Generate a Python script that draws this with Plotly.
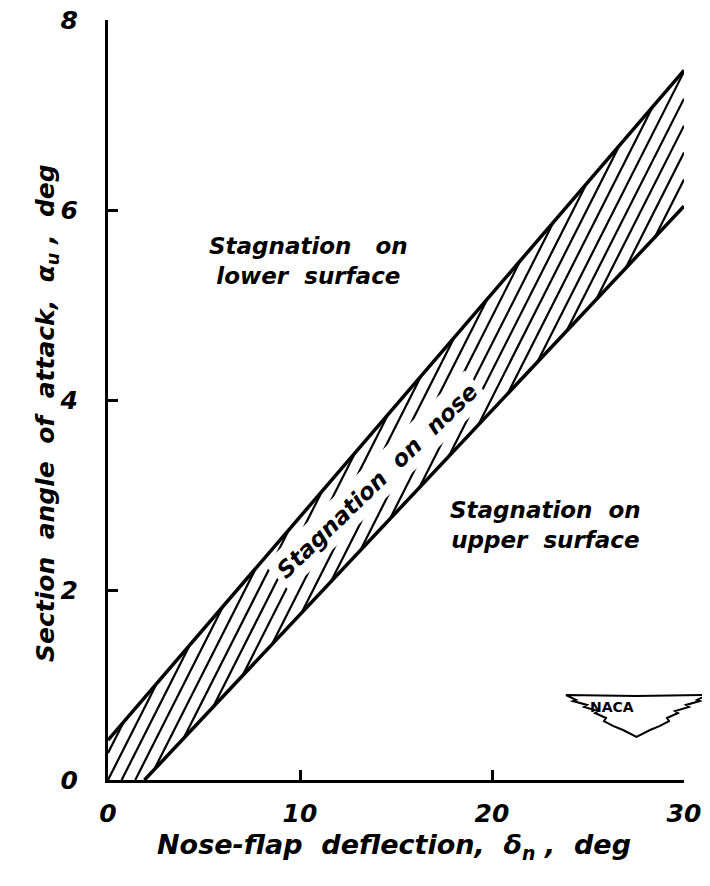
import numpy as np
import plotly.graph_objects as go

# ---- data ----
upper_x = [0.0, 30.0]          # boundary: stagnation on lower surface / nose
upper_y = [0.42, 7.47]
lower_x = [1.9, 30.0]          # boundary: stagnation on nose / upper surface
lower_y = [0.0, 6.04]

x_ticks = [0, 10, 20, 30]
y_ticks = [0, 2, 4, 6, 8]

# hatch style (pattern only)
HATCH_SLOPE = 0.40
HATCH_STEP = 0.71

# the page body has an 8px margin; compensate so the plot lands where intended
OFF = 8
W, H = 710 - OFF, 886 - OFF
PX0, PX1, PY0, PY1 = 108, 684, 20, 780   # plot area in page pixels
L, T = PX0 - OFF, PY0 - OFF
R, B = W - (PX1 - OFF), H - (PY1 - OFF)


def paper(xp, yp):
    return (xp - PX0) / (PX1 - PX0), (PY1 - yp) / (PY1 - PY0)


fig = go.Figure()

# ---- hatch segments inside band ----
su = (upper_y[1] - upper_y[0]) / (upper_x[1] - upper_x[0])
u0 = upper_y[0] - su * upper_x[0]
sl = (lower_y[1] - lower_y[0]) / (lower_x[1] - lower_x[0])
x0l = lower_x[0]
hx, hy = [], []
for k in range(-3, 40):
    c = k * HATCH_STEP
    s = HATCH_SLOPE
    x_up = (u0 + s * c) / (s - su)
    x_lo = (s * c - sl * x0l) / (s - sl)
    xa = max(0.0, c, x_lo)
    xb = min(30.0, x_up)
    if xb > xa:
        hx += [xa, xb, None]
        hy += [s * (xa - c), s * (xb - c), None]
fig.add_trace(go.Scatter(x=hx, y=hy, mode="lines",
                         line=dict(color="black", width=2.2),
                         hoverinfo="skip", showlegend=False))

fig.add_trace(go.Scatter(x=upper_x, y=upper_y, mode="lines",
                         line=dict(color="black", width=3.5), showlegend=False))
fig.add_trace(go.Scatter(x=lower_x, y=lower_y, mode="lines",
                         line=dict(color="black", width=3.5), showlegend=False))

FONT = "DejaVu Sans"
lab = dict(family=FONT, size=23, color="black", weight="bold", style="italic")
SP = "&nbsp;&nbsp;"

fig.add_annotation(x=14.0, y=3.15, text="Stagnation" + SP + "on" + SP + "nose",
                   showarrow=False, textangle=-44, font=lab,
                   bgcolor="white", borderpad=5)
fig.add_annotation(x=10.45, y=5.46,
                   text="Stagnation" + SP + "&nbsp;on<br>lower" + SP + "surface",
                   showarrow=False, font=lab, align="center")
fig.add_annotation(x=22.8, y=2.68,
                   text="Stagnation" + SP + "on<br>upper" + SP + "surface",
                   showarrow=False, font=lab, align="center")

# ---- NACA logo (decoration) ----
cx = 636.5
right_edge = [(707, 695), (697, 700), (700, 701), (686, 705), (689, 707),
              (675, 711), (678, 713), (667, 718), (669, 721), (660, 726),
              (650, 730)]
left_edge = [(2 * cx - a, b) for a, b in right_edge]
pts = [left_edge[0], (cx, 696)] + right_edge + [(cx, 737)] + left_edge[::-1][:-1]
path = "M " + " L ".join(f"{paper(a, b)[0]:.4f},{paper(a, b)[1]:.4f}"
                         for a, b in pts) + " Z"
fig.add_shape(type="path", path=path, xref="paper", yref="paper",
              line=dict(color="black", width=2), fillcolor="white")
lx, ly = paper(636, 717)
fig.add_annotation(x=lx, y=ly, xref="paper", yref="paper", text="NACA",
                   showarrow=False,
                   font=dict(family=FONT, size=14, color="black", weight="bold"))

# ---- axis titles ----
titlefont = dict(family=FONT, size=27, color="black", style="italic", weight="bold")
tx, ty = paper(394, 866)
fig.add_annotation(x=tx, y=ty, xref="paper", yref="paper", showarrow=False,
                   text="Nose-flap" + SP + "deflection," + SP + "δ<sub>n</sub>"
                        + "&nbsp;," + SP + "deg",
                   font=titlefont)
ytf = dict(titlefont, size=25)
ax_, ay_ = paper(29, 413)
fig.add_annotation(x=ax_, y=ay_, xref="paper", yref="paper", showarrow=False,
                   textangle=-90,
                   text="Section" + SP + "angle" + SP + "of" + SP + "attack," + SP
                        + "α<sub>u</sub>" + "&nbsp;," + SP + "deg",
                   font=ytf)

tickfont = dict(family=FONT, size=25, color="black", style="italic", weight="bold")

fig.update_xaxes(range=[0, 30], tickvals=x_ticks, ticktext=[str(v) for v in x_ticks],
                 showgrid=False, zeroline=False, showline=True, linecolor="black",
                 linewidth=3, ticks="inside", ticklen=10, tickwidth=2.5,
                 tickcolor="black", tickfont=tickfont, ticklabelstandoff=9,
                 ticklabeloverflow="allow", automargin=False)
fig.update_yaxes(range=[0, 8], tickvals=y_ticks, ticktext=[str(v) for v in y_ticks],
                 showgrid=False, zeroline=False, showline=True, linecolor="black",
                 linewidth=3, ticks="inside", ticklen=10, tickwidth=2.5,
                 tickcolor="black", tickfont=tickfont, ticklabelstandoff=22,
                 ticklabeloverflow="allow", automargin=False)

fig.update_layout(width=W, height=H, plot_bgcolor="white", paper_bgcolor="white",
                  margin=dict(l=L, r=R, t=T, b=B), showlegend=False)

fig.write_html("out.html")
